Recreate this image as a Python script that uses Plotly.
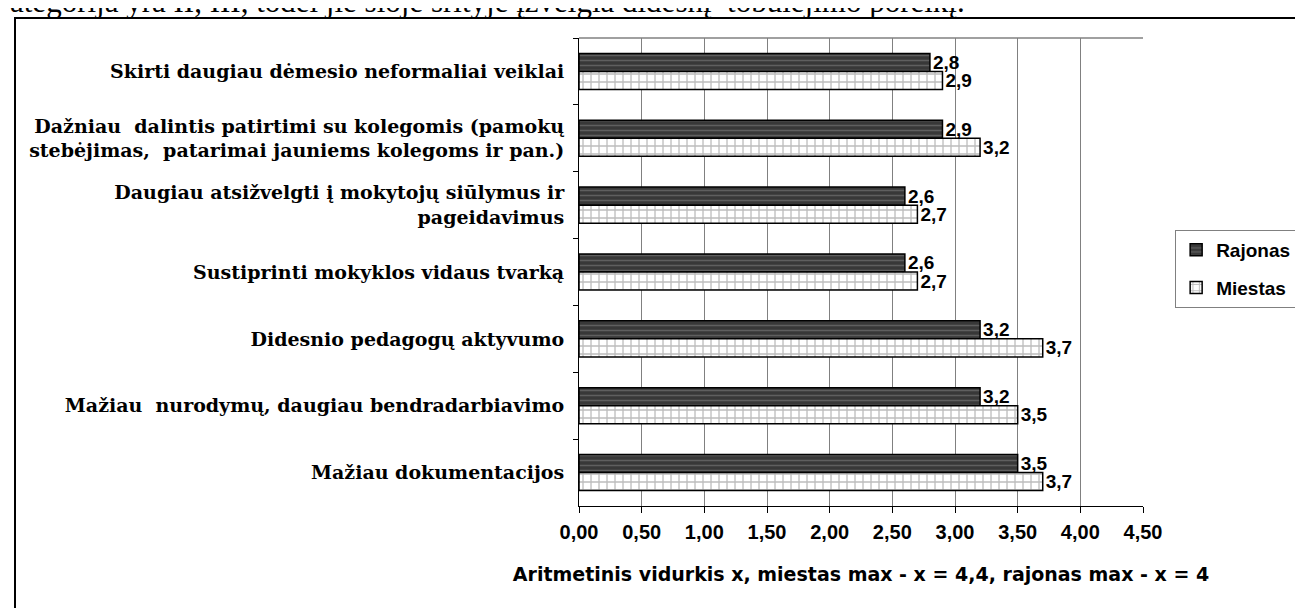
import plotly.graph_objects as go

categories = [
    "Skirti daugiau dėmesio neformaliai veiklai",
    "Dažniau  dalintis patirtimi su kolegomis (pamokų<br>stebėjimas,  patarimai jauniems kolegoms ir pan.)",
    "Daugiau atsižvelgti į mokytojų siūlymus ir<br>pageidavimus",
    "Sustiprinti mokyklos vidaus tvarką",
    "Didesnio pedagogų aktyvumo",
    "Mažiau  nurodymų, daugiau bendradarbiavimo",
    "Mažiau dokumentacijos",
]
rajonas = [2.8, 2.9, 2.6, 2.6, 3.2, 3.2, 3.5]
miestas = [2.9, 3.2, 2.7, 2.7, 3.7, 3.5, 3.7]
x_ticks = [0, 0.5, 1.0, 1.5, 2.0, 2.5, 3.0, 3.5, 4.0, 4.5]
x_title = "Aritmetinis vidurkis x, miestas max - x = 4,4, rajonas max - x = 4"
top_text = "ategorija yra II, III, todėl jie šioje srityje įžvelgia didesnį  tobulėjimo poreikį."

def fmt(v):
    return f"{v:.1f}".replace(".", ",")

SANS = "Liberation Sans"
SERIF = "Liberation Serif"

fig = go.Figure()
fig.add_trace(go.Bar(
    name="Rajonas", y=categories, x=rajonas, orientation="h",
    text=[fmt(v) for v in rajonas], textposition="outside", cliponaxis=False,
    constraintext="none",
    textfont=dict(family=SANS, size=19, color="black", weight="bold"),
    marker=dict(color="#383838", line=dict(color="black", width=1.5),
                pattern=dict(shape="-", fgcolor="#858585", bgcolor="#383838",
                             size=5, solidity=0.3, fillmode="overlay")),
    legendgroup="r", legendrank=1,
))
fig.add_trace(go.Bar(
    name="Miestas", y=categories, x=miestas, orientation="h",
    text=[fmt(v) for v in miestas], textposition="outside", cliponaxis=False,
    constraintext="none",
    textfont=dict(family=SANS, size=19, color="black", weight="bold"),
    marker=dict(color="white", line=dict(color="black", width=1.5),
                pattern=dict(shape="+", fgcolor="#7a7a7a", bgcolor="white",
                             size=8, solidity=0.3, fillmode="overlay")),
    legendgroup="m", legendrank=2,
))

fig.update_layout(
    width=1303, height=608,
    margin=dict(l=571, r=168, t=30, b=110, autoexpand=False),
    paper_bgcolor="white", plot_bgcolor="white",
    barmode="group", bargap=0.46, bargroupgap=0,
    separators=",.",
    showlegend=True,
    legend=dict(x=1.057, y=0.5897, xanchor="left", yanchor="top",
                bordercolor="#808080", borderwidth=1, bgcolor="white",
                font=dict(family=SANS, size=19, color="black", weight="bold"),
                tracegroupgap=10, itemwidth=30),
    font=dict(family=SANS, color="black"),
)
fig.update_xaxes(
    range=[0, 4.5], tickvals=x_ticks, tickformat=".2f", automargin=False,
    showgrid=True, gridcolor="#808080", gridwidth=1,
    showline=True, linecolor="black", linewidth=1,
    ticks="outside", ticklen=6, tickcolor="black",
    tickfont=dict(family=SANS, size=20, color="black", weight="bold"),
    ticklabelstandoff=2,
    zeroline=False,
    title=dict(text=x_title, standoff=25,
               font=dict(family="DejaVu Sans", size=19, color="black", weight="bold")),
)
fig.update_yaxes(
    type="category", categoryorder="array", categoryarray=categories,
    autorange="reversed", automargin=False,
    showline=True, linecolor="black", linewidth=1,
    ticks="outside", ticklen=5, tickcolor="black", tickson="boundaries",
    showgrid=False,
    tickfont=dict(family="DejaVu Serif", size=19, color="black", weight="bold"),
    ticklabelstandoff=10,
)

# plot-area top border (gray)
fig.add_shape(type="line", xref="paper", yref="paper", x0=0, x1=1, y0=1, y1=1,
              line=dict(color="#808080", width=1.5))
# outer chart frame
fig.add_shape(type="rect", xref="paper", yref="paper",
              x0=-1.0, x1=2.0, y0=-1.0, y1=1.0427,
              line=dict(color="black", width=2), layer="above")

fig.add_annotation(text=top_text, xref="paper", yref="paper",
                   x=-1.0124, y=1.0363, xanchor="left", yanchor="bottom",
                   showarrow=False, align="left",
                   font=dict(family=SERIF, size=31, color="black"))

fig.write_html("out.html")
